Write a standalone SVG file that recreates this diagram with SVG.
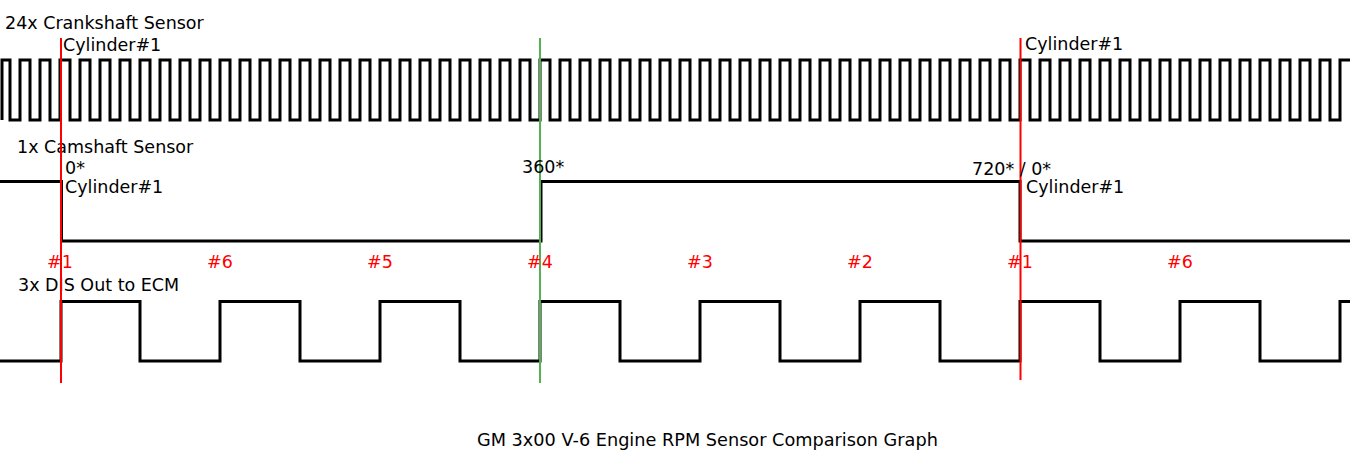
<svg xmlns="http://www.w3.org/2000/svg" width="1350" height="471" viewBox="0 0 1350 471">
<style>
.t{font-family:"DejaVu Sans",sans-serif;font-size:17.5px;fill:#000}
.r{font-family:"DejaVu Sans",sans-serif;font-size:17.5px;fill:#ff0000}
.w{fill:none;stroke:#000;stroke-width:3}
.mr{stroke:#ff0000;stroke-width:2}
.mg{stroke:#55b055;stroke-width:2}
</style>
<rect width="1350" height="471" fill="#fff"/>
<g id="crank">
<path class="w" d="M2,120 V60 H10 V120 H20 V60 H30 V120 H40 V60 H50 V120 H60 V60 H70 V120 H80 V60 H90 V120 H100 V60 H110 V120 H120 V60 H130 V120 H140 V60 H150 V120 H160 V60 H170 V120 H180 V60 H190 V120 H200 V60 H210 V120 H220 V60 H230 V120 H240 V60 H250 V120 H260 V60 H270 V120 H280 V60 H290 V120 H300 V60 H310 V120 H320 V60 H330 V120 H340 V60 H350 V120 H360 V60 H370 V120 H380 V60 H390 V120 H400 V60 H410 V120 H420 V60 H430 V120 H440 V60 H450 V120 H460 V60 H470 V120 H480 V60 H490 V120 H500 V60 H510 V120 H520 V60 H530 V120 H540 V60 H550 V120 H560 V60 H570 V120 H580 V60 H590 V120 H600 V60 H610 V120 H620 V60 H630 V120 H640 V60 H650 V120 H660 V60 H670 V120 H680 V60 H690 V120 H700 V60 H710 V120 H720 V60 H730 V120 H740 V60 H750 V120 H760 V60 H770 V120 H780 V60 H790 V120 H800 V60 H810 V120 H820 V60 H830 V120 H840 V60 H850 V120 H860 V60 H870 V120 H880 V60 H890 V120 H900 V60 H910 V120 H920 V60 H930 V120 H940 V60 H950 V120 H960 V60 H970 V120 H980 V60 H990 V120 H1000 V60 H1010 V120 H1020 V60 H1030 V120 H1040 V60 H1050 V120 H1060 V60 H1070 V120 H1080 V60 H1090 V120 H1100 V60 H1110 V120 H1120 V60 H1130 V120 H1140 V60 H1150 V120 H1160 V60 H1170 V120 H1180 V60 H1190 V120 H1200 V60 H1210 V120 H1220 V60 H1230 V120 H1240 V60 H1250 V120 H1260 V60 H1270 V120 H1280 V60 H1290 V120 H1300 V60 H1310 V120 H1320 V60 H1330 V120 H1340 V60 H1350"/>
<text class="t" x="5" y="29">24x Crankshaft Sensor</text>
</g>
<g id="cam">
<path class="w" d="M0,181.5 H61.5 V241 H541 V181.5 H1020 V241 H1350"/>
<text class="t" x="17" y="153">1x Camshaft Sensor</text>
</g>
<g id="dis">
<path class="w" d="M0,361 H61 V301.5 H140 V361 H220 V301.5 H300 V361 H380 V301.5 H460 V361 H540 V301.5 H620 V361 H700 V301.5 H780 V361 H860 V301.5 H940 V361 H1020 V301.5 H1100 V361 H1180 V301.5 H1260 V361 H1340 V301.5 H1350"/>
<text class="t" x="18" y="291">3x DIS Out to ECM</text>
</g>
<g id="markers">
<line class="mr" x1="61" y1="38" x2="61" y2="383"/>
<line class="mg" x1="540" y1="38" x2="540" y2="383"/>
<line class="mr" x1="1020.5" y1="38" x2="1020.5" y2="380"/>
</g>
<g id="labels">
<text class="t" x="63" y="51">Cylinder#1</text>
<text class="t" x="1025" y="50">Cylinder#1</text>
<text class="t" x="65" y="174">0*</text>
<text class="t" x="65" y="193">Cylinder#1</text>
<text class="t" x="522" y="173">360*</text>
<text class="t" x="972" y="175">720* / 0*</text>
<text class="t" x="1026" y="193">Cylinder#1</text>
<text class="r" x="47" y="268">#1</text>
<text class="r" x="207" y="268">#6</text>
<text class="r" x="367" y="268">#5</text>
<text class="r" x="527" y="268">#4</text>
<text class="r" x="687" y="268">#3</text>
<text class="r" x="847" y="268">#2</text>
<text class="r" x="1007" y="268">#1</text>
<text class="r" x="1167" y="268">#6</text>
<text class="t" x="477" y="446" style="font-size:17.7px">GM 3x00 V-6 Engine RPM Sensor Comparison Graph</text>
</g>
</svg>
